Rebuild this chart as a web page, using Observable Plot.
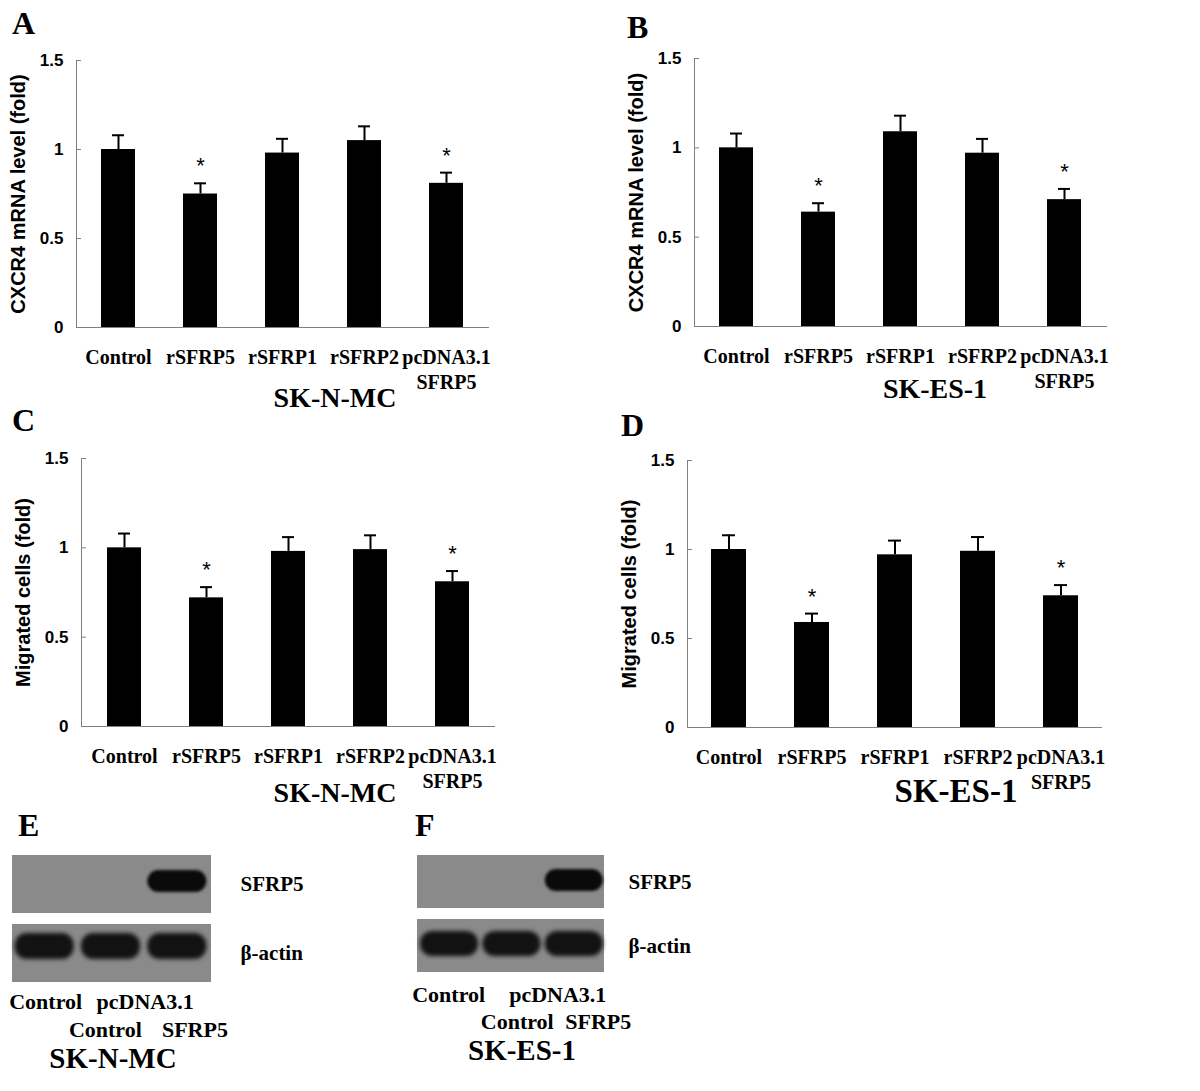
<!DOCTYPE html>
<html><head><meta charset="utf-8">
<script src="https://cdn.jsdelivr.net/npm/d3@7"></script>
<script src="https://cdn.jsdelivr.net/npm/@observablehq/plot@0.6"></script>
<style>
body{margin:0;background:#fff;}
#fig{position:relative;width:1200px;height:1091px;overflow:hidden;background:#fff;}
.t{position:absolute;font-family:"Liberation Serif","Times New Roman",serif;font-weight:bold;line-height:1;white-space:nowrap;color:#000;}
</style></head><body><div id="fig"></div><script>
// ---------- data ----------
const categories = ["Control", "rSFRP5", "rSFRP1", "rSFRP2", "pcDNA3.1\nSFRP5"];
const significant = [false, true, false, false, true];
const yTicks = [0, 0.5, 1, 1.5];

const meanA = [1.00, 0.75, 0.98, 1.05, 0.81];
const sdA   = [0.08, 0.06, 0.08, 0.08, 0.06];
const meanB = [1.00, 0.64, 1.09, 0.97, 0.71];
const sdB   = [0.08, 0.05, 0.09, 0.08, 0.06];
const meanC = [1.00, 0.72, 0.98, 0.99, 0.81];
const sdC   = [0.08, 0.06, 0.08, 0.08, 0.06];
const meanD = [1.00, 0.59, 0.97, 0.99, 0.74];
const sdD   = [0.08, 0.05, 0.08, 0.08, 0.06];

const blotRows = ["SFRP5", "β-actin"];
const blotLanes = [1, 2, 3];
const sfrp5E = [0, 0, 1];
const actinE = [1, 1, 1];
const sfrp5F = [0, 0, 1];
const actinF = [1, 1, 1];
const laneTextE = ["Control", "pcDNA3.1", "Control", "SFRP5"];
const laneAtE   = [1, 2.5, 1.9, 3.25];
const laneTextF = ["Control", "pcDNA3.1", "Control", "SFRP5"];
const laneAtF   = [1, 2.75, 2.1, 3.4];
const laneLine  = [1, 1, 2, 2];

const SERIF = "Liberation Serif, Times New Roman, serif";
const SANS = "Liberation Sans, Arial, sans-serif";
const fig = document.getElementById("fig");

function place(node, left, top) {
  node.style.position = "absolute";
  node.style.left = left + "px";
  node.style.top = top + "px";
  fig.appendChild(node);
}
function label(text, size, x, baseline, center) {
  const d = document.createElement("div");
  d.className = "t";
  d.textContent = text;
  d.style.fontSize = size + "px";
  d.style.top = (baseline - 0.837 * size) + "px";
  d.style.left = x + "px";
  if (center) d.style.transform = "translateX(-50%)";
  fig.appendChild(d);
}

function barChart(means, sds, yLabel, left, top, m) {
  const data = categories.map((c, i) => ({cat: c, value: means[i], err: means[i] + sds[i], sig: significant[i]}));
  const p = Plot.plot({
    width: 600, height: 420,
    marginLeft: m[0], marginRight: m[1], marginTop: m[2], marginBottom: m[3],
    style: {fontFamily: SERIF, fontWeight: "bold", background: "transparent", overflow: "visible", color: "#000"},
    x: {domain: categories, paddingInner: 0.58, paddingOuter: 0.29, label: null, axis: null},
    y: {domain: [0, 1.5], label: null, axis: null},
    marks: [
      Plot.barY(data, {x: "cat", y: "value", fill: "#000"}),
      Plot.ruleX(data, {x: "cat", y1: "value", y2: "err", strokeWidth: 2, stroke: "#000"}),
      Plot.tickY(data, {x: "cat", y: "err", strokeWidth: 2, stroke: "#000", insetLeft: 11, insetRight: 11}),
      Plot.text(data.filter(d => d.sig), {x: "cat", y: "err", text: () => "*", dy: -17, fontSize: 22, fontFamily: SANS, fontWeight: "normal"}),
      Plot.frame({anchor: "left", stroke: "#808080"}),
      Plot.ruleY([0], {stroke: "#808080"}),
      Plot.axisY(yTicks, {tickSize: -5, tickPadding: 18, tickFormat: d => String(d), fontSize: 17, fontFamily: SANS, fontWeight: "bold", stroke: "#808080", label: null}),
      Plot.axisX({tickSize: 0, tickPadding: 19, fontSize: 20, fontFamily: SERIF, fontWeight: "bold", lineHeight: 1.25, label: null}),
      Plot.text([yLabel], {frameAnchor: "left", rotate: -90, dx: -58, textAnchor: "middle", lineAnchor: "middle", fontSize: 20, fontFamily: SANS, fontWeight: "bold"})
    ]
  });
  place(p, left, top);
}

function blot(sfrp5, actin, left, top, m, padIn, ins, off, rowPad, laneText, laneAt, dys) {
  const bands = [];
  blotLanes.forEach((l, i) => {
    if (sfrp5[i] > 0) bands.push({row: "SFRP5", lane: l, v: sfrp5[i]});
    if (actin[i] > 0) bands.push({row: "β-actin", lane: l, v: actin[i]});
  });
  const labels = laneText.map((t, i) => ({text: t, lane: laneAt[i], line: laneLine[i]}));
  const p = Plot.plot({
    width: 400, height: 250,
    marginLeft: m[0], marginRight: m[1], marginTop: m[2], marginBottom: m[3],
    style: {fontFamily: SERIF, fontWeight: "bold", background: "transparent", overflow: "visible", color: "#000"},
    x: {domain: [0.5, 3.5], axis: null},
    y: {domain: blotRows, paddingInner: padIn, paddingOuter: 0, axis: null},
    marks: [
      Plot.barX(blotRows, {y: d => d, x1: 0.5, x2: 3.5, fill: "#8a8a8a"}),
      Plot.barX(bands.filter(d => d.row === "SFRP5"), {y: "row", x1: d => d.lane - off[0], x2: d => d.lane + off[1],
        fill: "#0a0a0a", rx: 11, insetTop: ins[0], insetBottom: ins[1], imageFilter: "blur(1.5px)"}),
      Plot.barX(bands.filter(d => d.row === "β-actin"), {y: "row", x1: d => d.lane - off[0], x2: d => d.lane + off[1],
        fill: "#121212", rx: 12, insetTop: ins[2], insetBottom: ins[3], imageFilter: "blur(2.2px)"}),
      Plot.axisY({anchor: "right", tickSize: 0, tickPadding: rowPad, fontSize: 21, fontFamily: SERIF, fontWeight: "bold", textAnchor: "start", label: null}),
      Plot.text(labels.filter(d => d.line === 1), {x: "lane", text: "text", frameAnchor: "bottom", dy: dys[0], fontSize: 22}),
      Plot.text(labels.filter(d => d.line === 2), {x: "lane", text: "text", frameAnchor: "bottom", dy: dys[1], fontSize: 22})
    ]
  });
  place(p, left, top);
}

// ---------- bar charts ----------
barChart(meanA, sdA, "CXCR4 mRNA level (fold)", 0, 0, [76, 111, 60, 93]);
barChart(meanB, sdB, "CXCR4 mRNA level (fold)", 600, 0, [94, 93, 58, 94]);
barChart(meanC, sdC, "Migrated cells (fold)", 0, 400, [81, 105, 58, 94]);
barChart(meanD, sdD, "Migrated cells (fold)", 600, 400, [87, 98, 60, 93]);

// ---------- blots ----------
blot(sfrp5E, actinE, 0, 840, [12, 189, 14, 108], 0.16, [15, 21, 9, 23], [0.46, 0.43], 29, laneTextE, laneAtE, [26, 54]);
blot(sfrp5F, actinF, 400, 840, [17, 196, 15, 118], 0.172, [14, 17, 12, 16], [0.45, 0.48], 24, laneTextF, laneAtF, [29, 56]);

// ---------- panel letters & cell-line titles ----------
label("A", 32, 12, 34);
label("B", 32, 627, 38);
label("C", 32, 12, 431);
label("D", 32, 621, 436);
label("E", 32, 18, 836);
label("F", 32, 415, 836);
label("SK-N-MC", 28, 335, 407, true);
label("SK-ES-1", 28, 935, 398, true);
label("SK-N-MC", 28, 335, 802, true);
label("SK-ES-1", 33, 956, 803, true);
label("SK-N-MC", 29, 113, 1068, true);
label("SK-ES-1", 29, 522, 1060, true);
</script></body></html>
